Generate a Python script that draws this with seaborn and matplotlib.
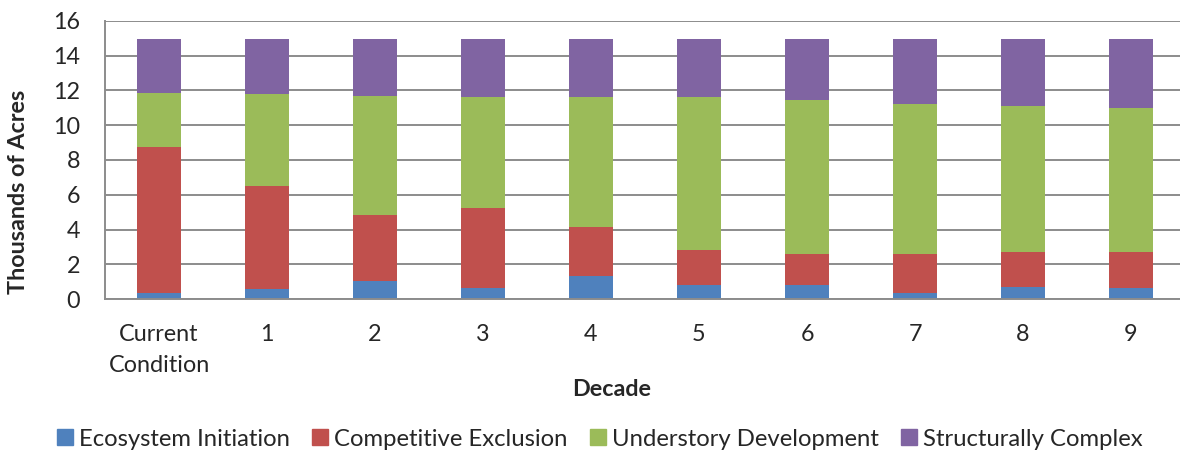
import matplotlib
matplotlib.use("Agg")
import matplotlib.pyplot as plt
import seaborn as sns
import numpy as np
from matplotlib.lines import Line2D

categories = ["Current\nCondition", "1", "2", "3", "4", "5", "6", "7", "8", "9"]
ecosystem_initiation = [0.36, 0.59, 1.07, 0.65, 1.32, 0.80, 0.80, 0.34, 0.69, 0.63]
competitive_exclusion = [8.38, 5.93, 3.79, 4.61, 2.81, 2.01, 1.80, 2.26, 2.04, 2.10]
understory_development = [3.10, 5.28, 6.80, 6.38, 7.51, 8.83, 8.87, 8.64, 8.36, 8.23]
structurally_complex = [3.11, 3.15, 3.29, 3.31, 3.31, 3.31, 3.48, 3.71, 3.86, 3.99]

series_names = ["Ecosystem Initiation", "Competitive Exclusion",
                "Understory Development", "Structurally Complex"]
colors = ["#4F81BD", "#C0504D", "#9BBB59", "#8064A2"]

sns.set_style("white")
plt.rcParams['font.family'] = ['Lato', 'DejaVu Sans']
FS = 16.8

fig = plt.figure(figsize=(11.8, 4.55), dpi=100)
W, H = 1180, 455
left, right, top, bottom = 105, 1185, 20.7, 299.3
ax = fig.add_axes([left / W, 1 - bottom / H, (right - left) / W, (bottom - top) / H])

layers = [ecosystem_initiation, competitive_exclusion, understory_development, structurally_complex]
cum = np.cumsum(np.array(layers), axis=0)

ax.set_axisbelow(True)
ax.yaxis.grid(True, color="#8c8c8c", linewidth=1.4)

for i in range(3, -1, -1):
    sns.barplot(x=categories, y=cum[i], color=colors[i], width=0.4, ax=ax,
                saturation=1, edgecolor="none", linewidth=0, order=categories)

ax.set_ylim(0, 16)
ax.set_xlim(-0.5, len(categories) - 0.5)
ax.set_yticks(np.arange(0, 17, 2))
ax.set_yticklabels([str(v) for v in range(0, 17, 2)], fontsize=FS)
ax.set_xticks(range(len(categories)))
ax.set_xticklabels(categories, fontsize=FS, linespacing=1.55)
ax.set_xticks(np.arange(-0.5, len(categories), 1), minor=True)
ax.tick_params(axis='x', which='major', length=0, pad=18)
ax.tick_params(axis='x', which='minor', length=6, width=1.2, color="#8c8c8c", direction='out')
ax.tick_params(axis='y', which='major', length=6, width=1.2, color="#8c8c8c", direction='out', pad=12)

for s in ["top", "right"]:
    ax.spines[s].set_visible(False)
for s in ["left", "bottom"]:
    ax.spines[s].set_color("#8c8c8c")
    ax.spines[s].set_linewidth(1.4)

ax.set_xlabel("")
ax.set_ylabel("")
fig.text(19 / W, 1 - 192 / H, "Thousands of Acres", rotation=90, ha='center', va='center',
         fontsize=FS, fontweight='bold')
fig.text(612 / W, 1 - 390 / H, "Decade", ha='center', va='center',
         fontsize=FS, fontweight='bold')

handles = [Line2D([0], [0], marker='s', linestyle='none', markersize=11,
                  markerfacecolor=c, markeredgecolor=c) for c in colors]
fig.legend(handles, series_names, loc='center', bbox_to_anchor=(600 / W, 1 - 439 / H),
           ncol=4, frameon=False, fontsize=17.2, handlelength=0.6, handletextpad=0.3,
           columnspacing=0.95, borderaxespad=0)

fig.savefig("out.png", dpi=100)
